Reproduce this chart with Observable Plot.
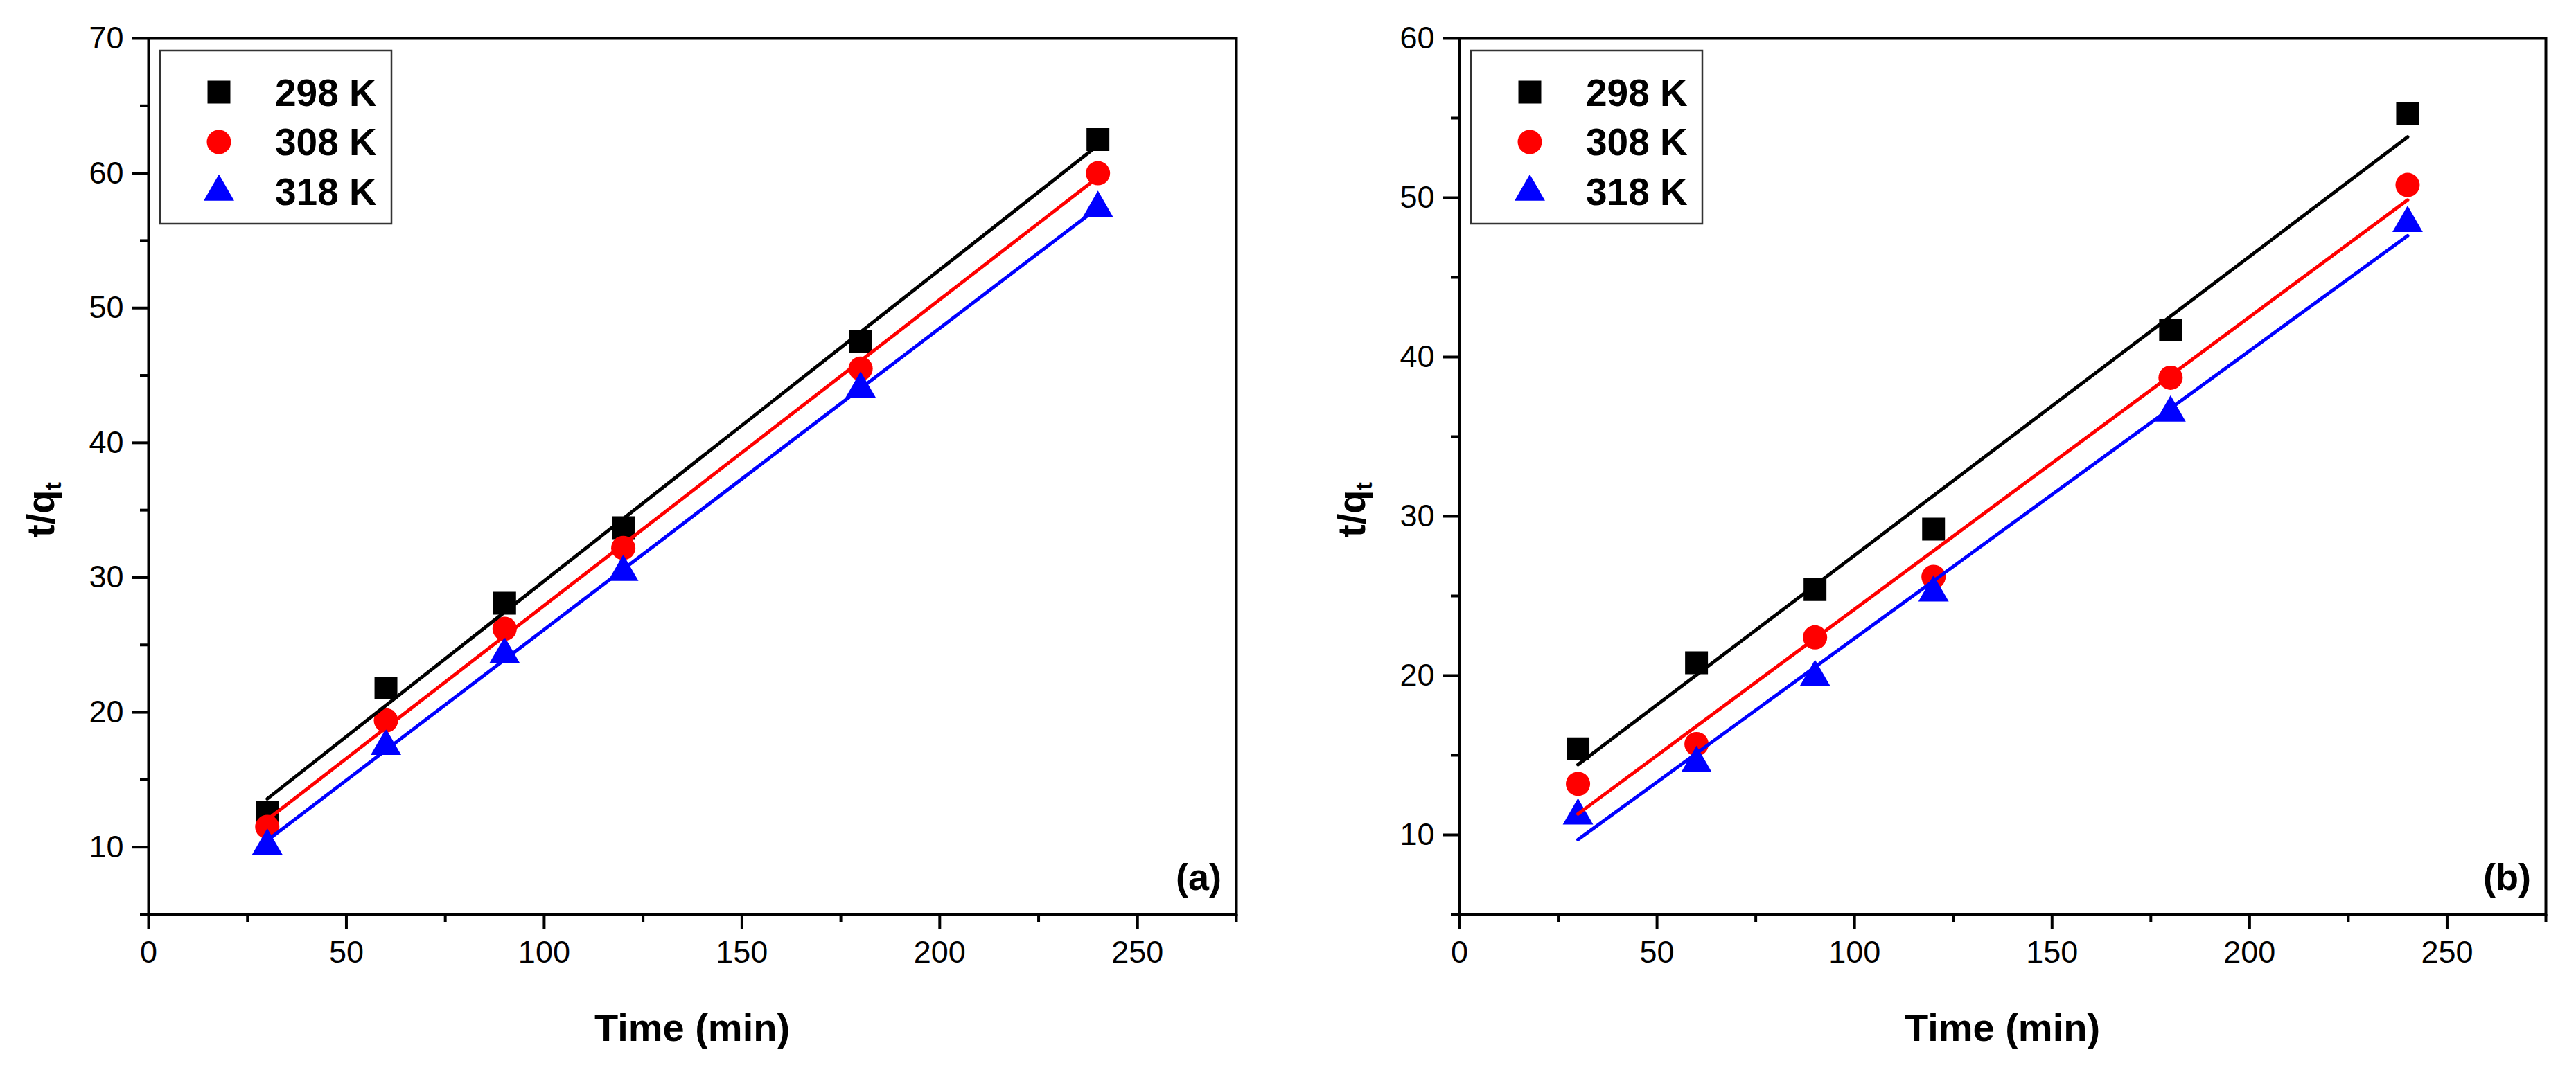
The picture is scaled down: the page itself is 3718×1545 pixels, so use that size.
<!DOCTYPE html>
<html><head><meta charset="utf-8">
<script src="https://cdn.jsdelivr.net/npm/d3@7"></script>
<script src="https://cdn.jsdelivr.net/npm/@observablehq/plot@0.6"></script>
<style>
html,body{margin:0;padding:0;background:#fff;}
#wrap{display:flex;width:3718px;height:1545px;overflow:hidden;}
#wrap svg{flex:none;}
</style></head><body><div id="wrap"></div>
<script>
// ---- data ----
const times = [30, 60, 90, 120, 180, 240];
const seriesNames = ["298 K", "308 K", "318 K"];
const colors = ["#000000", "#ff0000", "#0000ff"];
const symbolNames = ["square", "circle", "triangle"];
const symbolRadius = [18.6, 17.5, 16.3];

const a298 = [12.6, 21.8, 28.1, 33.7, 47.5, 62.5];
const a308 = [11.5, 19.4, 26.2, 32.2, 45.5, 60.0];
const a318 = [10.1, 17.5, 24.3, 30.4, 44.0, 57.4];

const b298 = [15.4, 20.8, 25.4, 29.2, 41.7, 55.3];
const b308 = [13.2, 15.7, 22.4, 26.2, 38.7, 50.8];
const b318 = [11.2, 14.5, 19.9, 25.2, 36.5, 48.4];

const xMajor = [0, 50, 100, 150, 200, 250];
const xMinor = [25, 75, 125, 175, 225, 275];
const aYMajor = [10, 20, 30, 40, 50, 60, 70];
const aYMinor = [5, 15, 25, 35, 45, 55, 65];
const bYMajor = [10, 20, 30, 40, 50, 60];
const bYMinor = [5, 15, 25, 35, 45, 55];

const FONT = "'Liberation Sans', Arial, sans-serif";
const W = 1859, H = 1545, MT = 55, MB = 225;

function panel({values, yDomain, yMajor, yMinor, tag, ml, mr}) {
  const marks = [];
  const perSeries = values.map((vals, i) => vals.map((v, j) => ({t: times[j], v, s: seriesNames[i]})));
  perSeries.forEach((d, i) => {
    marks.push(Plot.dot(d, {x: "t", y: "v", symbol: symbolNames[i], r: symbolRadius[i], fill: colors[i]}));
  });
  perSeries.forEach((d, i) => {
    marks.push(Plot.linearRegressionY(d, {x: "t", y: "v", stroke: colors[i], strokeWidth: 5, ci: 0}));
  });
  marks.push(Plot.axisX({ticks: xMajor, tickSize: 22, tickPadding: 16, fontSize: 45, strokeWidth: 4, tickFormat: d => String(d)}));
  marks.push(Plot.axisX({ticks: xMinor, tickSize: 12, fontSize: 45, strokeWidth: 4, tickFormat: () => ""}));
  marks.push(Plot.axisY({ticks: yMajor, tickSize: 23, tickPadding: 13, fontSize: 45, strokeWidth: 4, tickFormat: d => String(d)}));
  marks.push(Plot.axisY({ticks: yMinor, tickSize: 12, fontSize: 45, strokeWidth: 4, tickFormat: () => ""}));
  marks.push(Plot.frame({stroke: "black", strokeWidth: 4}));

  const plot = Plot.plot({
    width: W, height: H,
    marginLeft: ml, marginRight: mr, marginTop: MT, marginBottom: MB,
    style: {fontFamily: FONT, fontSize: "45px", color: "black", background: "white", overflow: "visible"},
    x: {domain: [0, 275], label: null},
    y: {domain: yDomain, label: null},
    marks
  });

  const svg = d3.select(plot);
  const extra = svg.append("g").attr("text-anchor", "start").attr("font-family", FONT).attr("fill", "black");
  // y label with subscript
  const yl = extra.append("text")
    .attr("transform", `translate(${ml - 136},776) rotate(-90)`)
    .attr("text-anchor", "start")
    .attr("font-weight", "bold").attr("font-size", 56);
  yl.append("tspan").text("t/q");
  yl.append("tspan").attr("font-size", 34).attr("dy", "0.3em").text("t");

  // x label
  extra.append("text")
    .attr("x", (ml + W - mr) / 2).attr("y", 1503)
    .attr("text-anchor", "middle")
    .attr("font-weight", "bold").attr("font-size", 56)
    .text("Time (min)");

  // panel tag
  extra.append("text")
    .attr("x", W - mr - 21).attr("y", 1285)
    .attr("text-anchor", "end")
    .attr("font-weight", "bold").attr("font-size", 54)
    .text(tag);

  // legend
  const lg = extra.append("g").attr("transform", `translate(${ml + 17},73)`);
  lg.append("rect").attr("width", 334).attr("height", 250)
    .attr("fill", "white").attr("stroke", "#333").attr("stroke-width", 2.5);
  const d3Sym = [d3.symbolSquare, d3.symbolCircle, d3.symbolTriangle];
  const symY = [60, 132, 204];
  const txtY = [80, 151, 223];
  seriesNames.forEach((name, i) => {
    lg.append("path")
      .attr("transform", `translate(85,${symY[i]})`)
      .attr("d", d3.symbol().type(d3Sym[i]).size(Math.PI * symbolRadius[i] ** 2)())
      .attr("fill", colors[i]);
    lg.append("text")
      .attr("x", 166).attr("y", txtY[i])
      .attr("text-anchor", "start")
      .attr("font-weight", "bold").attr("font-size", 55)
      .text(name);
  });
  return plot;
}

const wrap = document.getElementById("wrap");
wrap.appendChild(panel({values: [a298, a308, a318], yDomain: [5, 70], yMajor: aYMajor, yMinor: aYMinor, tag: "(a)", ml: 214, mr: 75}));
wrap.appendChild(panel({values: [b298, b308, b318], yDomain: [5, 60], yMajor: bYMajor, yMinor: bYMinor, tag: "(b)", ml: 247, mr: 44}));
</script>
</body></html>
